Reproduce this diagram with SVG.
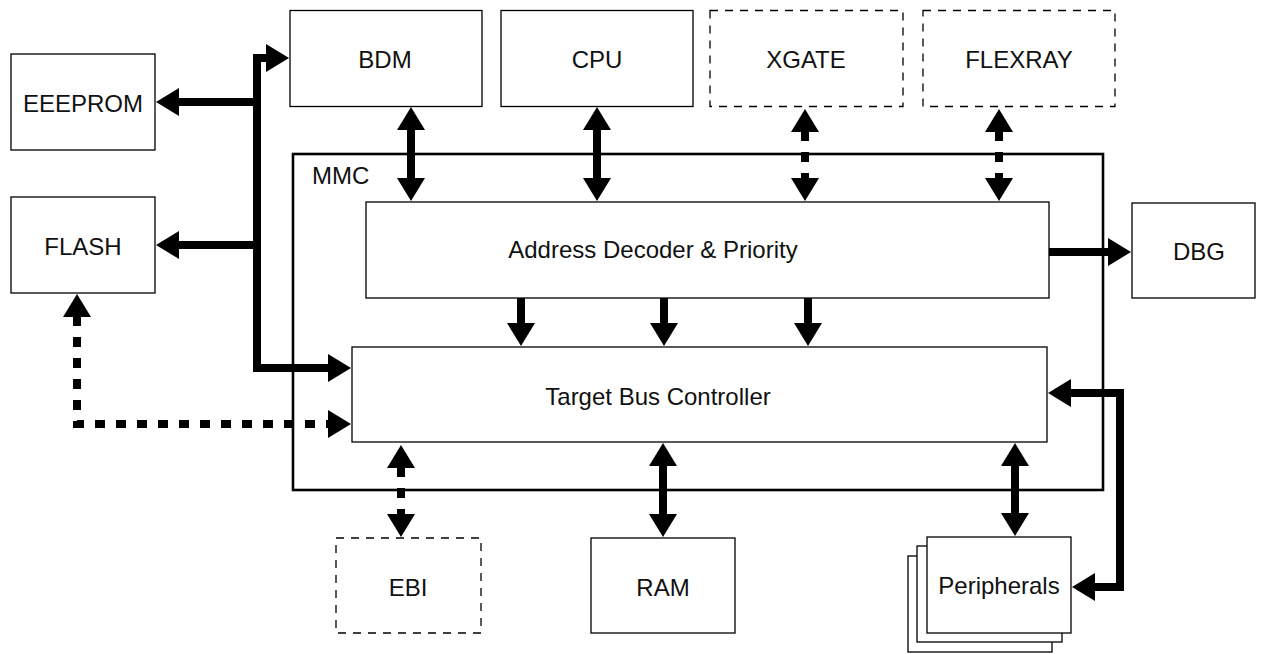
<svg xmlns="http://www.w3.org/2000/svg" width="1267" height="654" viewBox="0 0 1267 654">
<style>
.box{fill:#fff;stroke:#000;stroke-width:1.3}
.dbox{fill:#fff;stroke:#000;stroke-width:1.3;stroke-dasharray:8 7}
.mmc{fill:none;stroke:#000;stroke-width:2.6}
.t{font-family:"Liberation Sans",Arial,Helvetica,sans-serif;font-size:24px;fill:#111;text-anchor:middle}
.ts{font-family:"Liberation Sans",Arial,Helvetica,sans-serif;font-size:24px;fill:#111}
.c{fill:none;stroke:#000;stroke-width:8;stroke-linejoin:miter}
.cd{fill:none;stroke:#000;stroke-width:8;stroke-dasharray:10 11}
</style>
<defs>
<marker id="ah" markerUnits="userSpaceOnUse" viewBox="0 0 23 28" refX="1" refY="14" markerWidth="23" markerHeight="28" orient="auto-start-reverse">
<path d="M0,0 L23,14 L0,28 Z" fill="#000"/>
</marker>
</defs>
<g id="mmc"><rect class="mmc" x="293" y="154" width="810" height="336"/><text class="ts" x="312" y="184">MMC</text></g>
<g id="eeeprom"><rect class="box" x="11" y="54" width="144" height="96"/><text class="t" x="83" y="112">EEEPROM</text></g>
<g id="flash"><rect class="box" x="11" y="197" width="144" height="96"/><text class="t" x="83" y="255">FLASH</text></g>
<g id="bdm"><rect class="box" x="290" y="10.5" width="192" height="96"/><text class="t" x="385" y="68">BDM</text></g>
<g id="cpu"><rect class="box" x="501" y="10.5" width="192" height="96"/><text class="t" x="597" y="68">CPU</text></g>
<g id="xgate"><rect class="dbox" x="710" y="10.5" width="193" height="96"/><text class="t" x="806" y="68">XGATE</text></g>
<g id="flexray"><rect class="dbox" x="923" y="10.5" width="192" height="96"/><text class="t" x="1019" y="68">FLEXRAY</text></g>
<g id="addr"><rect class="box" x="366" y="202" width="683" height="96"/><text class="t" x="653" y="258">Address Decoder &amp; Priority</text></g>
<g id="tbc"><rect class="box" x="352" y="347" width="695" height="95"/><text class="t" x="658" y="405">Target Bus Controller</text></g>
<g id="dbg"><rect class="box" x="1132" y="203" width="123" height="95"/><text class="t" x="1199" y="260">DBG</text></g>
<g id="ebi"><rect class="dbox" x="336" y="538" width="145" height="95"/><text class="t" x="408" y="596">EBI</text></g>
<g id="ram"><rect class="box" x="591" y="538" width="144" height="95"/><text class="t" x="663" y="596">RAM</text></g>
<g id="peripherals">
<rect class="box" x="908" y="556" width="144" height="96"/>
<rect class="box" x="917" y="546" width="145" height="96"/>
<rect class="box" x="927" y="537" width="144" height="96"/>
<text class="t" x="999" y="594">Peripherals</text>
</g>
<g id="connectors">
<path class="c" d="M267,58 H257 V368 H329" marker-start="url(#ah)" marker-end="url(#ah)"/>
<path class="c" d="M257,102 H178" marker-end="url(#ah)"/>
<path class="c" d="M257,245 H178" marker-end="url(#ah)"/>
<path class="cd" d="M77,316 V424 H329" marker-start="url(#ah)" marker-end="url(#ah)"/>
<path class="c" d="M411,129 V179" marker-start="url(#ah)" marker-end="url(#ah)"/>
<path class="c" d="M597,129 V179" marker-start="url(#ah)" marker-end="url(#ah)"/>
<path class="cd" d="M805,131 V179" marker-start="url(#ah)" marker-end="url(#ah)"/>
<path class="cd" d="M999,131 V179" marker-start="url(#ah)" marker-end="url(#ah)"/>
<path class="c" d="M521,298 V324" marker-end="url(#ah)"/>
<path class="c" d="M664,298 V324" marker-end="url(#ah)"/>
<path class="c" d="M808,298 V324" marker-end="url(#ah)"/>
<path class="c" d="M1049,252 H1109" marker-end="url(#ah)"/>
<path class="cd" d="M401,467 V515" marker-start="url(#ah)" marker-end="url(#ah)"/>
<path class="c" d="M663,465 V515" marker-start="url(#ah)" marker-end="url(#ah)"/>
<path class="c" d="M1015,465 V514" marker-start="url(#ah)" marker-end="url(#ah)"/>
<path class="c" d="M1070,393 H1120 V587 H1094" marker-start="url(#ah)" marker-end="url(#ah)"/>
</g>
</svg>
